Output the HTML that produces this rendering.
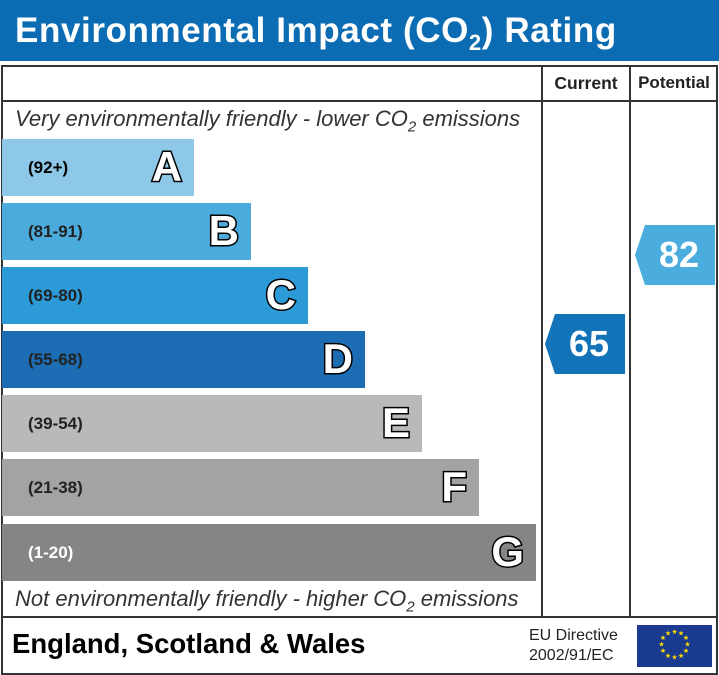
<!DOCTYPE html>
<html><head><style>
body{margin:0;width:719px;height:675px;background:#fff;position:relative;overflow:hidden;font-family:"Liberation Sans",sans-serif}
.hdr{position:absolute;left:0;top:0;width:719px;height:61px;background:#0b6cb3;color:#fff;font-weight:bold;font-size:35px;letter-spacing:0.6px;line-height:61px;padding-left:15px;box-sizing:border-box}
.ln{position:absolute;background:#333}
.bar{position:absolute;left:2px;height:57px}
.bar .r{position:absolute;left:26px;top:0;line-height:57px;font-weight:bold;font-size:17px;color:#222}
.bar .l{position:absolute;right:12px;top:-2px;line-height:60px;font-weight:bold;font-size:42px;color:#fff;-webkit-text-stroke:3px #000;paint-order:stroke fill}
.it{position:absolute;left:15px;font-style:italic;font-size:22px;color:#333}
.arr{position:absolute;width:80px;height:60px;color:#fff;font-weight:bold;font-size:36px;line-height:60px;text-align:center;clip-path:polygon(10px 0,100% 0,100% 100%,10px 100%,0 50%);padding-left:8px;box-sizing:border-box}
</style></head><body>
<div class="hdr">Environmental Impact (CO<sub style="font-size:22px">2</sub>) Rating</div>
<div class="ln" style="left:1px;top:65px;width:717px;height:2px"></div>
<div class="ln" style="left:1px;top:65px;width:2px;height:610px"></div>
<div class="ln" style="left:716px;top:65px;width:2px;height:610px"></div>
<div class="ln" style="left:1px;top:673px;width:717px;height:2px"></div>
<div class="ln" style="left:1px;top:100px;width:717px;height:2px"></div>
<div class="ln" style="left:1px;top:616px;width:717px;height:2px"></div>
<div class="ln" style="left:541px;top:65px;width:2px;height:552px"></div>
<div class="ln" style="left:629px;top:65px;width:2px;height:552px"></div>
<div style="position:absolute;left:543px;top:73px;width:86px;text-align:center;font-weight:bold;font-size:17.5px;color:#222">Current</div>
<div style="position:absolute;left:631px;top:73px;width:86px;text-align:center;font-weight:bold;font-size:17px;color:#222">Potential</div>
<div class="it" style="top:106px">Very environmentally friendly - lower CO<sub style="font-size:15px">2</sub> emissions</div>
<div class="it" style="top:586px">Not environmentally friendly - higher CO<sub style="font-size:15px">2</sub> emissions</div>
<div class="bar" style="top:139px;width:192px;background:#8ec8e8"><span class="r" style="color:#000">(92+)</span><span class="l">A</span></div>
<div class="bar" style="top:203px;width:249px;background:#4aabdc"><span class="r">(81-91)</span><span class="l">B</span></div>
<div class="bar" style="top:267px;width:306px;background:#2b9ad6"><span class="r">(69-80)</span><span class="l">C</span></div>
<div class="bar" style="top:331px;width:363px;background:#1c6db3"><span class="r">(55-68)</span><span class="l">D</span></div>
<div class="bar" style="top:395px;width:420px;background:#b9b9b9"><span class="r">(39-54)</span><span class="l">E</span></div>
<div class="bar" style="top:459px;width:477px;background:#a3a3a3"><span class="r">(21-38)</span><span class="l">F</span></div>
<div class="bar" style="top:524px;width:534px;background:#858585"><span class="r" style="color:#fff">(1-20)</span><span class="l">G</span></div>
<div class="arr" style="left:545px;top:314px;background:#1273b8">65</div>
<div class="arr" style="left:635px;top:225px;background:#4aaddd">82</div>
<div style="position:absolute;left:12px;top:628px;font-weight:bold;font-size:27.5px;color:#000">England, Scotland &amp; Wales</div>
<div style="position:absolute;left:529px;top:626px;font-size:16px;color:#222;line-height:20px">EU Directive<br>2002/91/EC</div>
<svg style="position:absolute;left:637px;top:625px" width="75" height="42" viewBox="0 0 75 42">
<rect width="75" height="42" fill="#1a3a8f"/>
<g fill="#ffdd00" font-size="7" text-anchor="middle">
<text x="37.5" y="9">★</text><text x="44" y="10.5">★</text><text x="49" y="15">★</text><text x="50.5" y="21.5">★</text><text x="49" y="28">★</text><text x="44" y="33">★</text><text x="37.5" y="34.5">★</text><text x="31" y="33">★</text><text x="26" y="28">★</text><text x="24.5" y="21.5">★</text><text x="26" y="15">★</text><text x="31" y="10.5">★</text>
</g></svg>
</body></html>
